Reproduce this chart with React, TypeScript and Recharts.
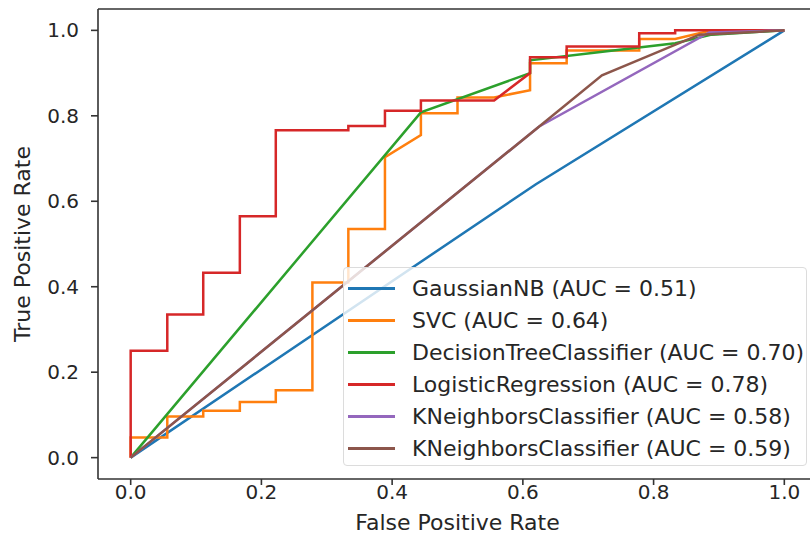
import React from 'react';
import { LineChart, Line, XAxis, YAxis, Legend, ReferenceLine } from 'recharts';

// ROC points, one pair of arrays per model
const gnbFpr = [0, 0.62, 1];
const gnbTpr = [0, 0.64, 1];

const svcFpr = [0, 0, 0.056, 0.056, 0.111, 0.111, 0.167, 0.167, 0.222, 0.222, 0.278, 0.278, 0.333, 0.333, 0.389, 0.389, 0.444, 0.444, 0.5, 0.5, 0.556, 0.611, 0.611, 0.667, 0.667, 0.778, 0.778, 0.833, 0.889, 1];
const svcTpr = [0, 0.047, 0.047, 0.096, 0.096, 0.11, 0.11, 0.13, 0.13, 0.158, 0.158, 0.41, 0.41, 0.535, 0.535, 0.703, 0.755, 0.806, 0.806, 0.843, 0.843, 0.86, 0.923, 0.923, 0.953, 0.953, 0.98, 0.98, 1, 1];

const treeFpr = [0, 0.444, 0.611, 0.611, 0.722, 0.833, 0.889, 1];
const treeTpr = [0, 0.808, 0.9, 0.93, 0.95, 0.97, 0.99, 1];

const logregFpr = [0, 0, 0.056, 0.056, 0.111, 0.111, 0.167, 0.167, 0.222, 0.222, 0.333, 0.333, 0.389, 0.389, 0.444, 0.444, 0.556, 0.611, 0.611, 0.667, 0.667, 0.778, 0.778, 0.833, 0.833, 1];
const logregTpr = [0, 0.25, 0.25, 0.335, 0.335, 0.433, 0.433, 0.565, 0.565, 0.766, 0.766, 0.776, 0.776, 0.812, 0.812, 0.836, 0.836, 0.9, 0.937, 0.937, 0.962, 0.962, 0.993, 0.993, 1, 1];

const knn1Fpr = [0, 0.625, 0.885, 1];
const knn1Tpr = [0, 0.775, 0.995, 1];

const knn2Fpr = [0, 0.625, 0.721, 0.87, 1];
const knn2Tpr = [0, 0.775, 0.895, 0.99, 1];

const ticks = [0, 0.2, 0.4, 0.6, 0.8, 1.0];

const zip = (fpr: number[], tpr: number[]) => fpr.map((f, i) => ({ fpr: f, tpr: tpr[i] }));

const series = [
  { name: 'GaussianNB (AUC = 0.51)', color: '#1f77b4', data: zip(gnbFpr, gnbTpr) },
  { name: 'SVC (AUC = 0.64)', color: '#ff7f0e', data: zip(svcFpr, svcTpr) },
  { name: 'DecisionTreeClassifier (AUC = 0.70)', color: '#2ca02c', data: zip(treeFpr, treeTpr) },
  { name: 'LogisticRegression (AUC = 0.78)', color: '#d62728', data: zip(logregFpr, logregTpr) },
  { name: 'KNeighborsClassifier (AUC = 0.58)', color: '#9467bd', data: zip(knn1Fpr, knn1Tpr) },
  { name: 'KNeighborsClassifier (AUC = 0.59)', color: '#8c564b', data: zip(knn2Fpr, knn2Tpr) },
];

const FONT = '"DejaVu Sans", sans-serif';
const FS = 22;
const TICK_FS = 20;
const TEXT = '#262626';
const SPINE = '#333';

const fmt = (v: number) => v.toFixed(1);

function RocLegend() {
  return (
    <div
      style={{
        boxSizing: 'border-box',
        width: 464,
        height: 199,
        padding: '4px 4px 3px 4px',
        background: 'rgba(255,255,255,0.8)',
        border: '1px solid #dcdcdc',
        borderRadius: 4,
        fontFamily: FONT,
        fontSize: FS,
        color: TEXT,
      }}
    >
      {series.map((s) => (
        <div key={s.name} style={{ display: 'flex', alignItems: 'center', height: 32, whiteSpace: 'nowrap' }}>
          <span style={{ width: 47, height: 3, background: s.color, marginRight: 17, flexShrink: 0 }} />
          <span>{s.name}</span>
        </div>
      ))}
    </div>
  );
}

export default function App() {
  return (
    <div style={{ position: 'absolute', left: 0, top: 0, width: 810, height: 547, overflow: 'hidden', background: '#fff' }}>
      <LineChart width={830} height={547} margin={{ top: 9, right: 13, bottom: 0, left: 0 }}>
        <XAxis
          type="number"
          dataKey="fpr"
          domain={[-0.05, 1.05]}
          ticks={ticks}
          tickFormatter={fmt}
          height={68}
          tickSize={6}
          tickMargin={0}
          stroke={SPINE}
          strokeWidth={1.6}
          tick={{ fill: TEXT, fontSize: TICK_FS, fontFamily: FONT }}
          label={{ value: 'False Positive Rate', position: 'insideBottom', offset: 17, fill: TEXT, fontSize: FS, fontFamily: FONT }}
        />
        <YAxis
          type="number"
          domain={[-0.05, 1.05]}
          ticks={ticks}
          tickFormatter={fmt}
          width={98}
          tickSize={7}
          tickMargin={12}
          stroke={SPINE}
          strokeWidth={1.6}
          tick={{ fill: TEXT, fontSize: TICK_FS, fontFamily: FONT }}
          label={{ value: 'True Positive Rate', angle: -90, position: 'insideLeft', offset: 22, fill: TEXT, fontSize: FS, fontFamily: FONT, style: { textAnchor: 'middle' } }}
        />
        <ReferenceLine y={1.05} stroke={SPINE} strokeWidth={1.6} />
        <ReferenceLine x={1.05} stroke={SPINE} strokeWidth={1.6} />
        {series.map((s) => (
          <Line
            key={s.name}
            data={s.data}
            dataKey="tpr"
            name={s.name}
            type="linear"
            stroke={s.color}
            strokeWidth={2.5}
            dot={false}
            activeDot={false}
            isAnimationActive={false}
          />
        ))}
        <Legend
          layout="vertical"
          align="center"
          verticalAlign="middle"
          wrapperStyle={{ left: 343, top: 267, width: 464, height: 199 }}
          content={() => <RocLegend />}
        />
      </LineChart>
    </div>
  );
}
